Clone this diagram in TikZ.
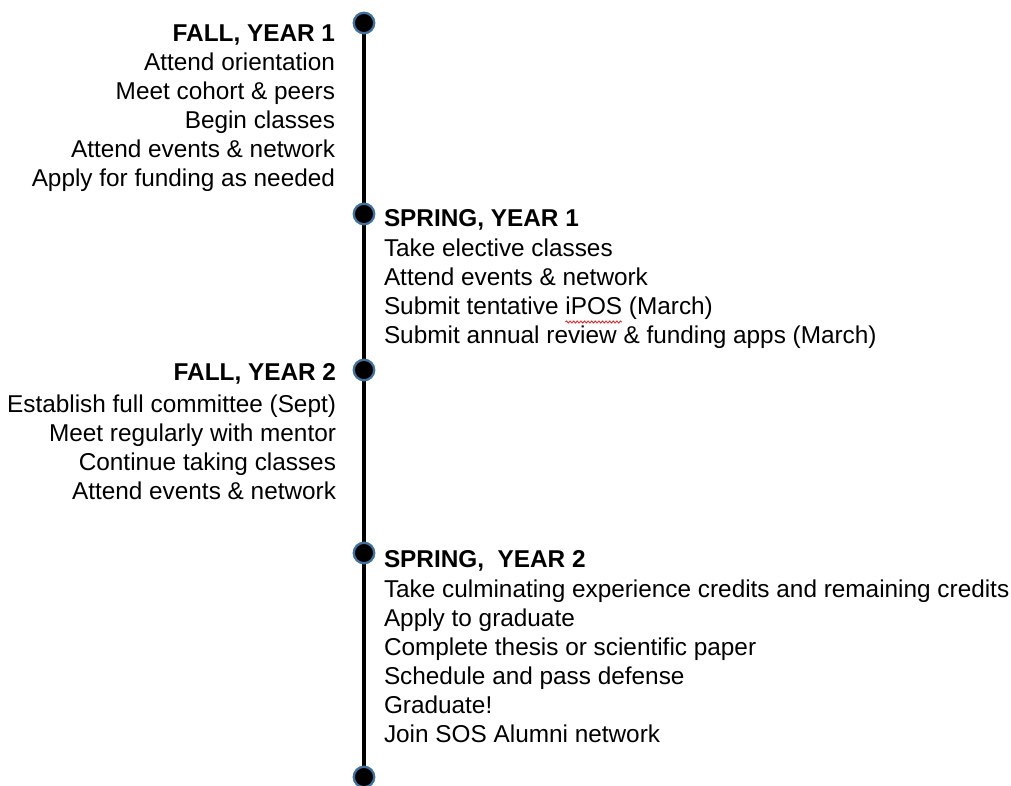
\documentclass[tikz,border=0pt]{standalone}
\usepackage{fontspec}
\setmainfont{Liberation Sans}
\usetikzlibrary{decorations.pathmorphing}
\definecolor{dotring}{RGB}{65,113,156}
\definecolor{squig}{RGB}{230,30,30}
\begin{document}
\begin{tikzpicture}[x=1pt,y=-1pt,
  every node/.style={inner sep=0pt,outer sep=0pt,font=\fontsize{24.35pt}{29pt}\selectfont},
  dotnode/.style={circle,fill=black,draw=dotring,line width=2.3pt,minimum size=20.5pt},
  lefttxt/.style={anchor=base east},
  righttxt/.style={anchor=base west},
  head/.style={font=\fontsize{24.35pt}{29pt}\selectfont\bfseries},
  spine/.style={line width=4.5pt,black}]
\useasboundingbox (0,0) rectangle (1011,786);
% dots
\coordinate (d0c) at (364,23);
\coordinate (d1c) at (364,214);
\coordinate (d2c) at (364,370);
\coordinate (d3c) at (364,553);
\coordinate (d4c) at (364,777);
\draw[spine] (d0c) -- (d4c);
\node[dotnode] (d0) at (d0c) {};
\node[dotnode] (d1) at (d1c) {};
\node[dotnode] (d2) at (d2c) {};
\node[dotnode] (d3) at (d3c) {};
\node[dotnode] (d4) at (d4c) {};
% FALL, YEAR 1
\node[lefttxt,head] (f1h) at (335,42) {FALL, YEAR 1};
\node[lefttxt] (f1a) at (335,71) {Attend orientation};
\node[lefttxt] (f1b) at (335,100) {Meet cohort \& peers};
\node[lefttxt] (f1c) at (335,129) {Begin classes};
\node[lefttxt] (f1d) at (335,158) {Attend events \& network};
\node[lefttxt] (f1e) at (335,187) {Apply for funding as needed};
% SPRING, YEAR 1
\node[righttxt,head] (s1h) at (384,227) {SPRING, YEAR 1};
\node[righttxt] (s1a) at (384,256) {Take elective classes};
\node[righttxt] (s1b) at (384,285) {Attend events \& network};
\node[righttxt] (s1c) at (384,314) {Submit tentative\ \null};
\node[righttxt] (ipos) at (s1c.base east) {iPOS};
\node[righttxt] (s1c2) at (ipos.base east) {\null\ (March)};
\node[righttxt] (s1d) at (384,343) {Submit annual review \& funding apps (March)};
\draw[squig,line width=0.8pt,decorate,decoration={snake,amplitude=1.1pt,segment length=3.6pt}]
  ([yshift=-8pt]ipos.base west) -- ([yshift=-8pt]ipos.base east);
% FALL, YEAR 2
\node[lefttxt,head] (f2h) at (336,380) {FALL, YEAR 2};
\node[lefttxt] (f2a) at (336,412) {Establish full committee (Sept)};
\node[lefttxt] (f2b) at (336,441) {Meet regularly with mentor};
\node[lefttxt] (f2c) at (336,470) {Continue taking classes};
\node[lefttxt] (f2d) at (336,499) {Attend events \& network};
% SPRING, YEAR 2
\node[righttxt,head] (s2h) at (384,567) {SPRING, \ YEAR 2};
\node[righttxt] (s2a) at (384,597) {Take culminating experience credits and remaining credits};
\node[righttxt] (s2b) at (384,626) {Apply to graduate};
\node[righttxt] (s2c) at (384,655) {Complete thesis or scientific paper};
\node[righttxt] (s2d) at (384,684) {Schedule and pass defense};
\node[righttxt] (s2e) at (384,713) {Graduate!};
\node[righttxt] (s2f) at (384,742) {Join SOS Alumni network};
\end{tikzpicture}
\end{document}
